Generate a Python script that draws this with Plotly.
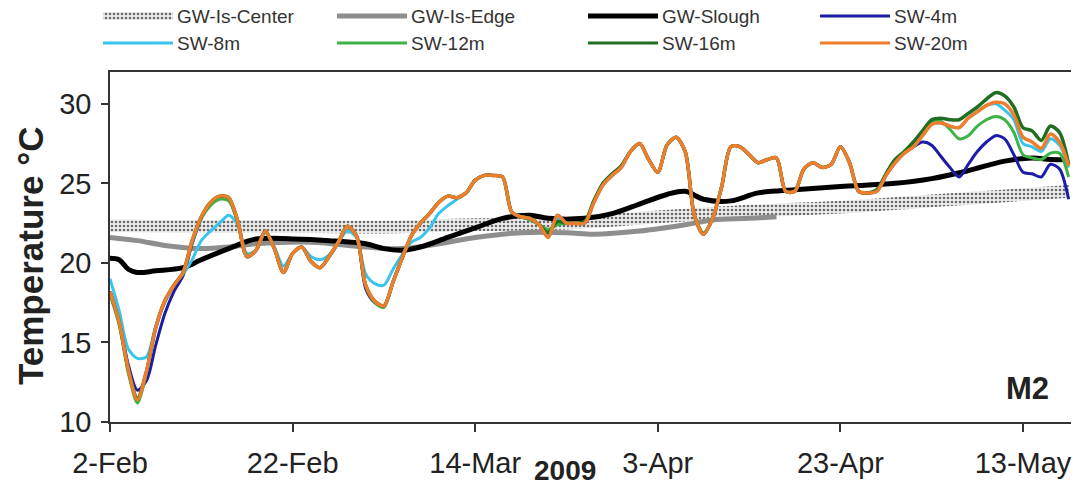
import plotly.graph_objects as go
import pandas as pd

START = pd.Timestamp("2009-02-02")

# ---------------- data (day offsets from 2-Feb-2009, temperature degC) ----------------
sw_days = list(range(106))

sw20 = [18.2, 16.3, 13.3, 11.4, 13.2, 15.9, 17.6, 18.6, 19.4, 21.4,
        22.9, 23.8, 24.2, 24.1, 22.6, 20.4, 20.8, 22.0, 20.9, 19.4,
        20.6, 21.0, 20.1, 19.7, 20.4, 21.3, 22.3, 21.7, 18.6, 17.6,
        17.3, 18.8, 20.3, 21.7, 22.5, 23.1, 23.8, 24.2, 24.1, 24.4,
        25.2, 25.5, 25.5, 25.4, 23.2, 22.9, 22.8, 22.4, 21.6, 23.0,
        22.5, 22.5, 22.5, 23.8, 24.9, 25.5, 26.0, 27.0, 27.5, 26.5,
        25.7, 27.4, 27.9, 27.0, 23.0, 21.8, 22.8, 24.8, 27.3, 27.3,
        26.8, 26.3, 26.5, 26.6, 24.5, 24.5, 25.9, 26.3, 26.0, 26.2,
        27.3, 26.3, 24.5, 24.4, 24.5, 25.5, 26.3, 26.9, 27.3, 28.0,
        28.7, 28.8, 28.6, 28.5, 29.1, 29.5, 29.9, 30.1, 30.0, 29.3,
        27.9, 27.6, 27.2, 28.1, 27.6, 26.1]

sw16 = [18.2, 16.3, 13.3, 11.5, 13.2, 15.9, 17.6, 18.6, 19.4, 21.4,
        22.9, 23.8, 24.2, 24.1, 22.6, 20.4, 20.8, 22.0, 20.9, 19.4,
        20.6, 21.0, 20.1, 19.7, 20.4, 21.3, 22.3, 21.7, 18.6, 17.6,
        17.3, 18.8, 20.3, 21.7, 22.5, 23.1, 23.8, 24.2, 24.1, 24.4,
        25.2, 25.5, 25.5, 25.4, 23.2, 22.9, 22.8, 22.4, 21.9, 22.6,
        22.5, 22.5, 22.6, 23.9, 25.0, 25.6, 26.1, 27.0, 27.5, 26.5,
        25.7, 27.4, 27.9, 27.0, 23.0, 21.8, 22.8, 24.8, 27.3, 27.3,
        26.8, 26.3, 26.5, 26.6, 24.5, 24.5, 25.9, 26.3, 26.0, 26.2,
        27.3, 26.3, 24.5, 24.4, 24.6, 25.6, 26.5, 27.0, 27.6, 28.3,
        29.0, 29.1, 29.0, 29.0, 29.4, 29.8, 30.3, 30.7, 30.5, 29.8,
        28.5, 28.3, 27.7, 28.6, 28.2, 26.2]

sw12 = [18.0, 16.1, 13.1, 11.2, 13.1, 15.9, 17.6, 18.6, 19.4, 21.3,
        22.8, 23.6, 24.0, 23.9, 22.5, 20.4, 20.8, 22.0, 20.9, 19.4,
        20.6, 21.0, 20.1, 19.7, 20.4, 21.3, 22.3, 21.7, 18.6, 17.5,
        17.2, 18.8, 20.3, 21.7, 22.5, 23.1, 23.8, 24.2, 24.1, 24.4,
        25.2, 25.5, 25.5, 25.4, 23.2, 22.9, 22.7, 22.4, 22.1, 22.4,
        22.5, 22.5, 22.6, 23.9, 25.0, 25.6, 26.1, 27.0, 27.5, 26.5,
        25.7, 27.4, 27.9, 27.0, 23.0, 21.9, 22.8, 24.8, 27.3, 27.3,
        26.8, 26.3, 26.5, 26.6, 24.5, 24.5, 25.9, 26.3, 26.0, 26.2,
        27.3, 26.3, 24.5, 24.4, 24.6, 25.6, 26.5, 27.0, 27.6, 28.3,
        28.9, 28.9, 28.4, 27.8, 28.0, 28.6, 29.0, 29.2, 29.0, 28.2,
        26.8, 26.6, 26.5, 26.9, 26.9, 25.4]

sw8 = [19.0, 17.0, 14.6, 14.0, 14.1, 16.0, 17.5, 18.6, 19.3, 20.2,
       21.4, 22.0, 22.5, 23.0, 22.4, 20.6, 20.8, 21.9, 21.0, 19.8,
       20.6, 21.0, 20.4, 20.2, 20.5, 21.3, 22.0, 21.6, 19.3, 18.7,
       18.6, 19.6, 20.5, 21.3, 21.6, 22.2, 23.1, 23.6, 24.0, 24.4,
       25.2, 25.5, 25.5, 25.4, 23.2, 22.9, 22.8, 22.4, 21.8, 22.8,
       22.5, 22.5, 22.5, 23.8, 24.9, 25.5, 26.0, 27.0, 27.5, 26.5,
       25.7, 27.4, 27.9, 27.0, 23.0, 21.8, 22.8, 24.8, 27.3, 27.3,
       26.8, 26.3, 26.5, 26.6, 24.5, 24.5, 25.9, 26.3, 26.0, 26.2,
       27.3, 26.3, 24.5, 24.4, 24.5, 25.5, 26.3, 26.9, 27.3, 28.0,
       28.7, 28.8, 28.6, 28.5, 29.1, 29.5, 29.9, 30.0, 29.6, 29.0,
       27.5, 27.3, 27.0, 27.8, 27.4, 26.0]

sw4 = [18.2, 16.4, 13.6, 12.0, 12.6, 14.8, 16.8, 18.2, 19.2, 21.2,
       22.8, 23.7, 24.1, 24.0, 22.6, 20.4, 20.8, 22.0, 20.9, 19.4,
       20.6, 21.0, 20.1, 19.7, 20.4, 21.3, 22.3, 21.7, 18.4, 17.5,
       17.3, 18.8, 20.3, 21.7, 22.5, 23.1, 23.8, 24.2, 24.1, 24.4,
       25.2, 25.5, 25.5, 25.4, 23.2, 22.9, 22.8, 22.4, 21.6, 23.0,
       22.5, 22.5, 22.5, 23.8, 24.9, 25.5, 26.0, 27.0, 27.5, 26.5,
       25.7, 27.4, 27.9, 27.0, 23.0, 21.8, 22.8, 24.8, 27.3, 27.3,
       26.8, 26.3, 26.5, 26.6, 24.5, 24.5, 25.9, 26.3, 26.0, 26.2,
       27.3, 26.3, 24.5, 24.4, 24.5, 25.5, 26.3, 26.9, 27.3, 27.6,
       27.4, 26.7, 26.0, 25.4, 26.2, 27.0, 27.6, 28.0, 27.8, 26.8,
       25.7, 25.6, 25.4, 26.2, 25.9, 24.0]

slough_days = [0, 1, 2, 3, 5, 8, 10, 13, 16, 20, 24, 28, 30, 32, 34, 37, 40, 43,
               46, 48, 52, 55, 58, 61, 63, 65, 68, 71, 75, 80, 86, 90, 94, 98,
               101, 103, 105]
slough = [20.3, 20.2, 19.6, 19.4, 19.5, 19.7, 20.2, 20.9, 21.5, 21.5, 21.4,
          21.2, 20.9, 20.8, 21.0, 21.6, 22.2, 22.8, 23.0, 22.8, 22.8, 23.1,
          23.7, 24.3, 24.5, 24.0, 23.9, 24.4, 24.6, 24.8, 25.0, 25.3, 25.8,
          26.4, 26.6, 26.5, 26.5]

edge_days = [0, 3, 6, 10, 13, 16, 22, 28, 32, 37, 40, 45, 50, 53, 58, 63, 66, 70, 73]
edge = [21.6, 21.4, 21.1, 20.9, 21.0, 21.2, 21.3, 21.0, 20.9, 21.3, 21.6,
        21.9, 21.9, 21.8, 22.0, 22.4, 22.7, 22.8, 22.9]

center_days = [0, 10, 20, 30, 40, 50, 60, 70, 80, 90, 100, 105]
center_upper = [22.75, 22.7, 22.7, 22.65, 22.8, 22.9, 23.3, 23.65, 23.9, 24.3, 24.7, 24.9]
center_lower = [21.95, 21.9, 21.9, 21.85, 22.0, 22.1, 22.5, 22.85, 23.1, 23.5, 23.9, 24.1]

tick_days = [0, 20, 40, 60, 80, 100]
tick_text = ["2-Feb", "22-Feb", "14-Mar", "3-Apr", "23-Apr", "13-May"]
y_ticks = [10, 15, 20, 25, 30]

legend_names = ["GW-Is-Center", "GW-Is-Edge", "GW-Slough", "SW-4m",
                "SW-8m", "SW-12m", "SW-16m", "SW-20m"]

# ---------------- styles ----------------
C_EDGE = "#8e8e8e"
C_SLOUGH = "#000000"
C_SW4 = "#1c1ca6"
C_SW8 = "#38c4ec"
C_SW12 = "#3db346"
C_SW16 = "#1f6e22"
C_SW20 = "#ee7d2c"
FONT = "Arial, Liberation Sans, Helvetica, sans-serif"

W, H = 1073, 489
L, R, T, B = 110, 1071, 72, 422  # plot area in pixels


def dates(days):
    return [START + pd.Timedelta(days=d) for d in days]


fig = go.Figure()

# GW-Is-Center band (dotted)
fig.add_trace(go.Scatter(x=dates(center_days), y=center_lower, mode="lines",
                         line=dict(width=0, shape="spline"), showlegend=False,
                         hoverinfo="skip"))
fig.add_trace(go.Scatter(x=dates(center_days), y=center_upper, mode="lines",
                         line=dict(width=0, shape="spline"), fill="tonexty",
                         fillcolor="rgba(235,235,235,1)",
                         fillpattern=dict(shape=".", fgcolor="#6a6a6a",
                                          bgcolor="#eeeeee", size=4, solidity=0.35),
                         name="GW-Is-Center", showlegend=False))

fig.add_trace(go.Scatter(x=dates(edge_days), y=edge, mode="lines",
                         line=dict(color=C_EDGE, width=5, shape="spline"),
                         name="GW-Is-Edge", showlegend=False))
fig.add_trace(go.Scatter(x=dates(slough_days), y=slough, mode="lines",
                         line=dict(color=C_SLOUGH, width=5, shape="spline"),
                         name="GW-Slough", showlegend=False))

for name, vals, col, w in [("SW-4m", sw4, C_SW4, 3),
                           ("SW-8m", sw8, C_SW8, 3),
                           ("SW-12m", sw12, C_SW12, 3),
                           ("SW-16m", sw16, C_SW16, 3.5),
                           ("SW-20m", sw20, C_SW20, 3.5)]:
    fig.add_trace(go.Scatter(x=dates(sw_days), y=vals, mode="lines",
                             line=dict(color=col, width=w, shape="spline", smoothing=0.8),
                             name=name, showlegend=False))

# ---------------- helper pixel-space axis for legend ----------------
col_x = [103, 337, 588, 820]
row_y = [16, 43]
sample_len = 70
legend_styles = [("band", None, None), ("line", C_EDGE, 5), ("line", C_SLOUGH, 5),
                 ("line", C_SW4, 3), ("line", C_SW8, 3), ("line", C_SW12, 3),
                 ("line", C_SW16, 3), ("line", C_SW20, 3)]

shapes = []
annotations = []
for i, (nm, st) in enumerate(zip(legend_names, legend_styles)):
    cx = col_x[i % 4]
    ry = row_y[i // 4]
    kind, col, w = st
    if kind == "band":
        fig.add_trace(go.Scatter(x=[cx, cx + sample_len, cx + sample_len, cx, cx],
                                 y=[ry - 4, ry - 4, ry + 4, ry + 4, ry - 4],
                                 xaxis="x2", yaxis="y2", mode="lines",
                                 line=dict(width=0), fill="toself",
                                 fillcolor="#eeeeee",
                                 fillpattern=dict(shape=".", fgcolor="#6a6a6a",
                                                  bgcolor="#eeeeee", size=4, solidity=0.35),
                                 showlegend=False, hoverinfo="skip"))
    else:
        shapes.append(dict(type="line", xref="x2", yref="y2", x0=cx, x1=cx + sample_len,
                           y0=ry, y1=ry, line=dict(color=col, width=w)))
    annotations.append(dict(xref="x2", yref="y2", x=cx + sample_len + 2, y=ry,
                            text=nm, showarrow=False, xanchor="left", yanchor="middle",
                            font=dict(family=FONT, size=19, color="#333333")))

annotations.append(dict(xref="x2", yref="y2", x=30, y=256, text="<b>Temperature °C</b>",
                        textangle=-90, showarrow=False, xanchor="center", yanchor="middle",
                        font=dict(family=FONT, size=35, color="#222222")))
annotations.append(dict(xref="x2", yref="y2", x=565, y=470, text="<b>2009</b>",
                        showarrow=False, xanchor="center", yanchor="middle",
                        font=dict(family=FONT, size=28, color="#222222")))
annotations.append(dict(xref="x2", yref="y2", x=1027, y=388, text="<b>M2</b>",
                        showarrow=False, xanchor="center", yanchor="middle",
                        font=dict(family=FONT, size=31, color="#222222")))

fig.update_layout(
    template="none",
    width=W, height=H,
    margin=dict(l=0, r=0, t=0, b=0, pad=0),
    paper_bgcolor="white", plot_bgcolor="rgba(0,0,0,0)",
    showlegend=False,
    shapes=shapes, annotations=annotations,
    xaxis=dict(domain=[L / W, R / W], type="date", automargin=False,
               range=[START, START + pd.Timedelta(days=(R - L) / 9.13)],
               tickvals=dates(tick_days), ticktext=tick_text,
               ticks="outside", ticklen=8, tickwidth=1.5, tickcolor="#333333",
               showline=True, linecolor="#333333", linewidth=1.5, mirror=True,
               showgrid=False, zeroline=False, ticklabelstandoff=6,
               tickfont=dict(family=FONT, size=29, color="#222222")),
    yaxis=dict(domain=[(H - B) / H, (H - T) / H], range=[10, 32], automargin=False,
               tickvals=y_ticks, ticks="outside", ticklen=7, tickwidth=1.5,
               tickcolor="#333333", showline=True, linecolor="#333333", linewidth=1.5,
               showgrid=False, zeroline=False, ticklabelstandoff=4,
               tickfont=dict(family=FONT, size=29, color="#222222")),
    xaxis2=dict(domain=[0, 1], range=[0, W], visible=False, anchor="y2",
                fixedrange=True, automargin=False),
    yaxis2=dict(domain=[0, 1], range=[H, 0], visible=False, anchor="x2",
                fixedrange=True, automargin=False),
)

fig.write_html("out.html", config={"displayModeBar": False},
               post_script="document.body.style.margin='0';document.body.style.overflow='hidden';")
